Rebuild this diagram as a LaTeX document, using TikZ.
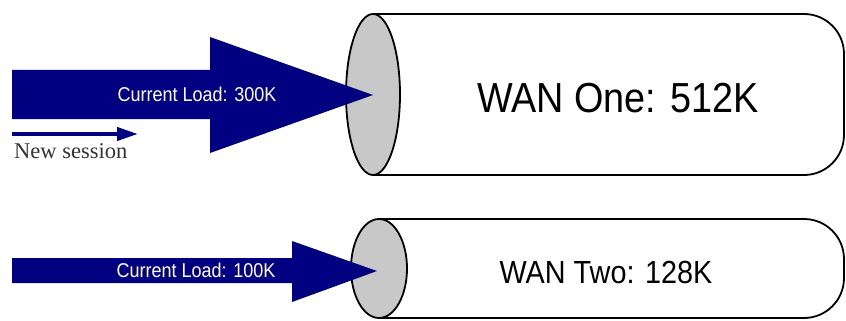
\documentclass[tikz,border=0pt]{standalone}
\usepackage{fontspec}
\setmainfont{Liberation Serif}
\newfontfamily\narrowsans[FakeStretch=0.9]{Liberation Sans}
\usetikzlibrary{arrows.meta}
\definecolor{wanblue}{RGB}{0,0,128}
\definecolor{capgray}{RGB}{200,200,200}
\begin{document}
\begin{tikzpicture}[
  x=1pt, y=-1pt,
  pipe/.style={draw, line width=1.8pt, fill=white, rounded corners=40pt},
  pipecap/.style={draw, line width=1.8pt, fill=capgray},
  load/.style={fill=wanblue},
  loadtext/.style={text=white, anchor=base, inner sep=0pt, font=\narrowsans\fontsize{20}{24}\selectfont},
  wantext/.style={anchor=base, inner sep=0pt}
]
\useasboundingbox (0,0) rectangle (846,321);

% WAN One pipe
\draw[pipe] (373,14) -- (844,14) -- (844,175) -- (373,175);
\draw[pipecap] (373,94.5) ellipse [x radius=27pt, y radius=80.5pt];
\node[wantext, font=\narrowsans\fontsize{42}{48}\selectfont] (wan1) at (618,112) {WAN One: 512K};

% WAN Two pipe
\draw[pipe] (379,219) -- (844,219) -- (844,318) -- (379,318);
\draw[pipecap] (379,268.5) ellipse [x radius=28pt, y radius=49.5pt];
\node[wantext, font=\narrowsans\fontsize{32}{38}\selectfont] (wan2) at (606,283) {WAN Two: 128K};

% Load arrows
\coordinate (tip1) at (373,95);
\coordinate (tip2) at (377,271);
\fill[load] (12,70) -- (210,70) -- (210,37) -- (tip1) -- (210,153) -- (210,119) -- (12,119) -- cycle;
\node[loadtext] (load1) at (197,101) {Current Load: 300K};
\fill[load] (12,258) -- (292,258) -- (292,241) -- (tip2) -- (292,302) -- (292,283) -- (12,283) -- cycle;
\node[loadtext] (load2) at (196,277) {Current Load: 100K};

% New session
\coordinate (ns0) at (12,134);
\coordinate (ns1) at (138,134);
\draw[wanblue, line width=4pt, -{Triangle[length=21pt,width=13pt]}] (ns0) -- (ns1);
\node[anchor=base west, inner sep=0pt, text=black!80, font=\fontsize{22.5}{26}\selectfont] (session) at (14,158) {New session};
\end{tikzpicture}
\end{document}
